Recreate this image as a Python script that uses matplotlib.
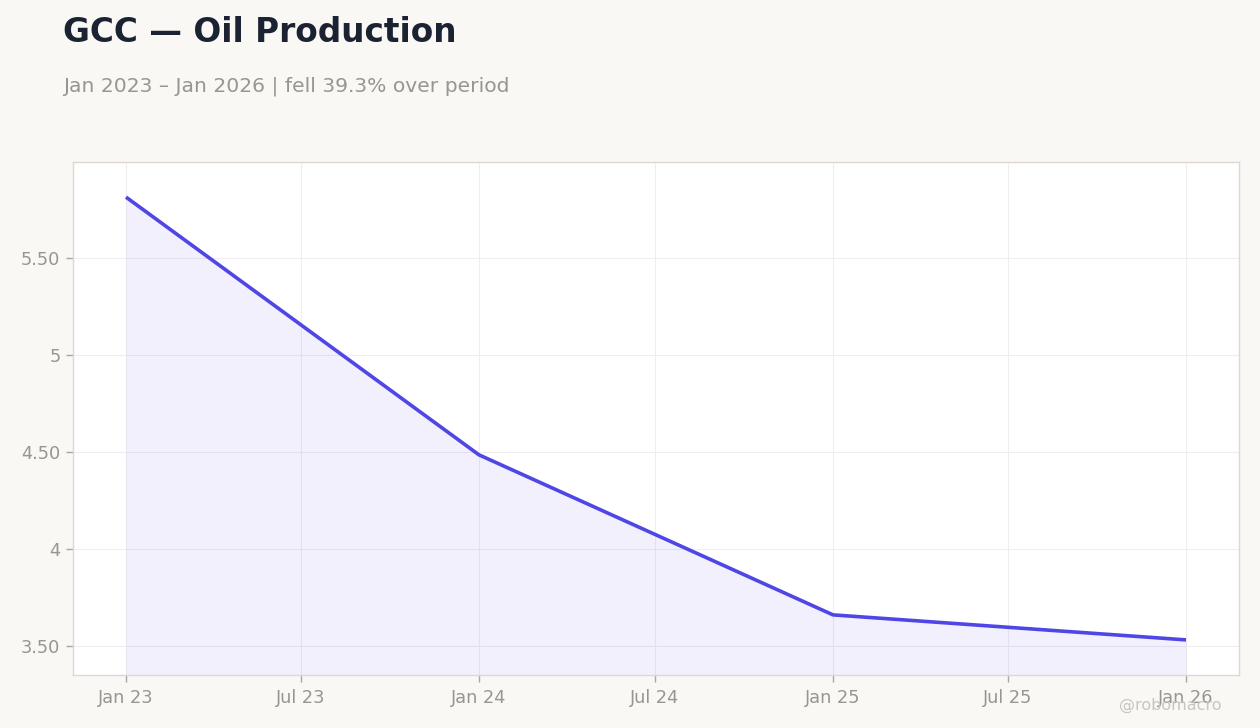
import matplotlib.pyplot as plt
import matplotlib.dates as mdates
from matplotlib.ticker import FuncFormatter
import pandas as pd

# yearly GCC oil production (mb/d)
dates = pd.to_datetime(['2023-01-01', '2024-01-01', '2025-01-01', '2026-01-01'])
values = [5.814, 4.485, 3.660, 3.531]

title = 'GCC \u2014 Oil Production'
subtitle = 'Jan 2023 \u2013 Jan 2026 | fell 39.3% over period'

line_color = '#4f46e5'
grey = '#999590'

plt.rcParams['font.family'] = ['DejaVu Sans']

fig = plt.figure(figsize=(12.6, 7.28), dpi=100, facecolor='#f9f8f5')
ax = fig.add_axes([73 / 1260, 1 - 675 / 728, (1239 - 73) / 1260, (675 - 162) / 728])
ax.set_facecolor('white')

ax.plot(dates, values, color=line_color, lw=2.6, solid_capstyle='butt')
ax.set_ylim(3.35, 5.995)
ax.fill_between(dates, values, 3.35, color=line_color, alpha=0.08, lw=0)
ax.margins(x=0.05)

ax.xaxis.set_major_locator(mdates.MonthLocator(bymonth=[1, 7]))
ax.xaxis.set_major_formatter(mdates.DateFormatter('%b %y'))
ax.set_yticks([3.5, 4.0, 4.5, 5.0, 5.5])


def fmt(v, pos):
    return f'{v:.0f}' if abs(v - round(v)) < 1e-9 else f'{v:.2f}'


ax.yaxis.set_major_formatter(FuncFormatter(fmt))

ax.grid(True, color='#efedf0', lw=0.8)
ax.set_axisbelow(True)
for s in ax.spines.values():
    s.set_color('#ddd8d0')
    s.set_linewidth(1)
ax.tick_params(colors='#aaa6a0', labelcolor=grey, labelsize=12.8, length=5, width=1)
ax.tick_params(axis='x', pad=5)
ax.tick_params(axis='y', pad=4)

fig.text(63 / 1260, 1 - 32 / 728, title, fontsize=23.6, fontweight='bold',
         color='#1b2333', va='center', ha='left')
fig.text(63 / 1260, 1 - 86 / 728, subtitle, fontsize=14.6, color=grey,
         va='center', ha='left')
fig.text(1222 / 1260, 1 - 705 / 728, '@robomacro', fontsize=11.5, color='#c9c5c0',
         va='center', ha='right')

fig.savefig('out.png', dpi=100, facecolor=fig.get_facecolor())
